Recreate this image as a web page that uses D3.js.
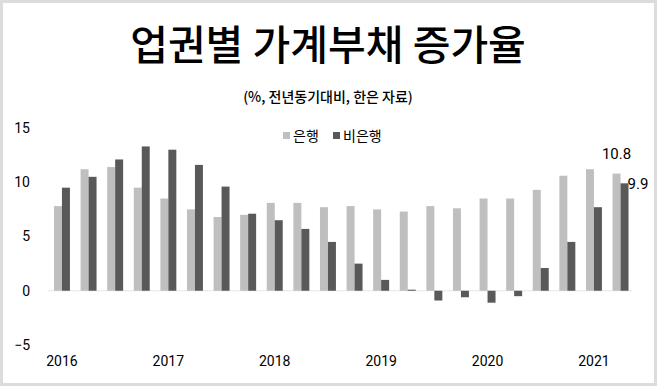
<!DOCTYPE html>
<html>
<head>
<meta charset="utf-8">
<script src="https://cdn.jsdelivr.net/npm/d3@7"></script>
<style>
  body { margin: 0; background: #fff; }
  text { font-family: Roboto, "Noto Sans CJK KR", sans-serif; }
</style>
</head>
<body>
<div id="chart"></div>
<script>
// quarterly, 2016 Q1 .. 2021 Q2
const quarters = ["2016Q1","2016Q2","2016Q3","2016Q4","2017Q1","2017Q2","2017Q3","2017Q4",
  "2018Q1","2018Q2","2018Q3","2018Q4","2019Q1","2019Q2","2019Q3","2019Q4",
  "2020Q1","2020Q2","2020Q3","2020Q4","2021Q1","2021Q2"];
const bank = [7.8, 11.2, 11.4, 9.5, 8.5, 7.5, 6.8, 7.0, 8.1, 8.1, 7.7, 7.8,
  7.5, 7.3, 7.8, 7.6, 8.5, 8.5, 9.3, 10.6, 11.2, 10.8];
const nonBank = [9.5, 10.5, 12.1, 13.3, 13.0, 11.6, 9.6, 7.1, 6.5, 5.7, 4.5, 2.5,
  1.0, 0.1, -0.9, -0.6, -1.1, -0.5, 2.1, 4.5, 7.7, 9.9];
const yTicks = [-5, 0, 5, 10, 15];
const yearLabels = ["2016", "2017", "2018", "2019", "2020", "2021"];
const seriesNames = ["은행", "비은행"];
const colors = ["#bfbfbf", "#595959"];

const width = 658, height = 387;

const svg = d3.select("#chart").append("svg")
  .attr("width", width)
  .attr("height", height);

// frame
svg.append("rect")
  .attr("x", 1.5).attr("y", 1.5)
  .attr("width", width - 4).attr("height", height - 4)
  .attr("fill", "#fff")
  .attr("stroke", "#dcdcdc")
  .attr("stroke-width", 3);

svg.append("text")
  .attr("x", 328).attr("y", 60)
  .attr("text-anchor", "middle")
  .style("font-family", "'Noto Sans CJK KR', sans-serif")
  .style("font-size", "41px")
  .style("font-weight", 500)
  .text("업권별 가계부채 증가율");

svg.append("text")
  .attr("x", 328).attr("y", 102)
  .attr("text-anchor", "middle")
  .style("font-family", "'Noto Sans CJK KR', sans-serif")
  .style("font-size", "14px")
  .style("font-weight", 500)
  .text("(%, 전년동기대비, 한은 자료)");

const x = d3.scaleBand()
  .domain(quarters)
  .range([46, 636.5])
  .paddingInner(0.4)
  .paddingOuter(0.3);

const xSub = d3.scaleBand()
  .domain([0, 1])
  .range([0, x.bandwidth()]);

const y = d3.scaleLinear()
  .domain([-5, 15])
  .range([345, 128]);

// y tick labels
const yAxis = svg.append("g")
  .attr("transform", "translate(30,0)")
  .call(d3.axisLeft(y).tickValues(yTicks).tickSize(0).tickPadding(0));
yAxis.select(".domain").remove();
yAxis.selectAll("text")
  .style("font-size", "14px")
  .attr("fill", "#000");

// zero line
svg.append("line")
  .attr("x1", 48).attr("x2", 632)
  .attr("y1", y(0)).attr("y2", y(0))
  .attr("stroke", "#e6e6e6")
  .attr("stroke-width", 1);

// year labels at first quarter of each year
svg.append("g")
  .selectAll("text")
  .data(yearLabels)
  .join("text")
  .attr("x", d => x(d + "Q1") + x.bandwidth() / 2)
  .attr("y", 366)
  .attr("text-anchor", "middle")
  .style("font-size", "14px")
  .text(d => d);

const series = [bank, nonBank];
series.forEach((vals, s) => {
  svg.append("g")
    .selectAll("rect")
    .data(vals)
    .join("rect")
    .attr("x", (d, i) => x(quarters[i]) + xSub(s))
    .attr("width", xSub.bandwidth())
    .attr("y", d => y(Math.max(0, d)))
    .attr("height", d => Math.abs(y(d) - y(0)))
    .attr("fill", colors[s]);
});

// end labels
const last = quarters.length - 1;
svg.append("text")
  .attr("x", x(quarters[last]) + xSub(0) + xSub.bandwidth() / 2)
  .attr("y", y(bank[last]) - 15)
  .attr("text-anchor", "middle")
  .style("font-size", "15px")
  .text(bank[last].toFixed(1));
svg.append("text")
  .attr("x", x(quarters[last]) + xSub(1) + xSub.bandwidth() - 1)
  .attr("y", y(nonBank[last]) + 6)
  .style("font-size", "15px")
  .text(nonBank[last].toFixed(1));

// legend
const legend = svg.append("g");
const legendX = [283, 333];
seriesNames.forEach((name, i) => {
  legend.append("rect")
    .attr("x", legendX[i]).attr("y", 132)
    .attr("width", 7).attr("height", 7)
    .attr("fill", colors[i]);
  legend.append("text")
    .attr("x", legendX[i] + 10).attr("y", 141)
    .style("font-family", "'Noto Sans CJK KR', sans-serif")
    .style("font-size", "14px")
    .text(name);
});
</script>
</body>
</html>
